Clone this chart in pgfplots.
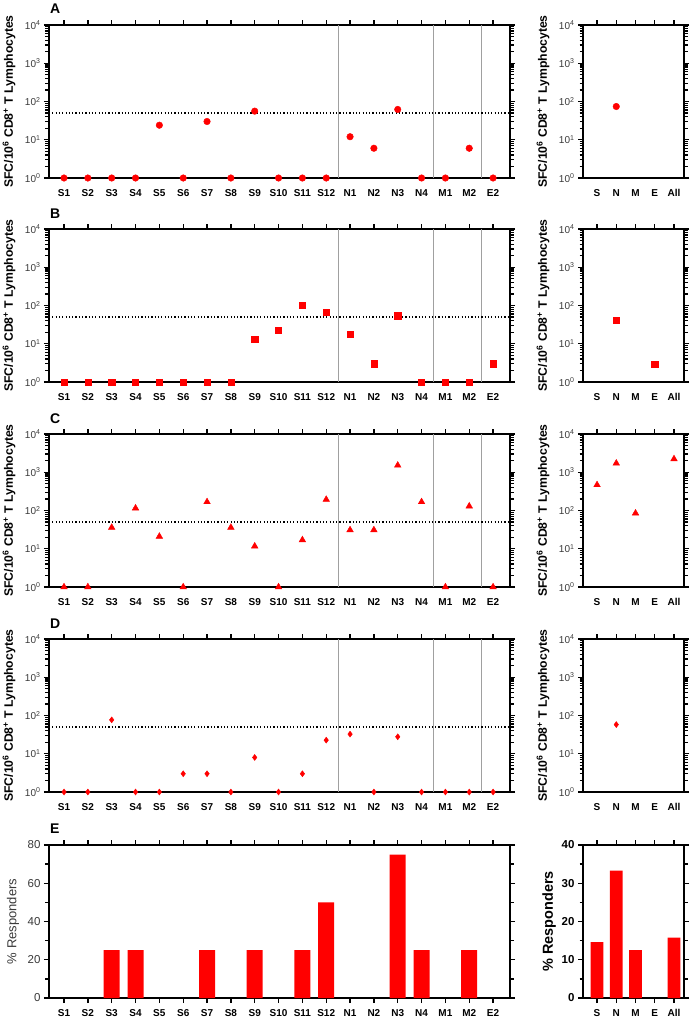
\documentclass[border=0pt]{standalone}
\usepackage{fontspec}
\setmainfont{Liberation Sans}
\usepackage{pgfplots}
\pgfplotsset{compat=1.18}
\definecolor{tickgray}{HTML}{3A3A3A}
\definecolor{sepgray}{HTML}{A0A0A0}
\definecolor{ptred}{HTML}{FF0000}

\pgfplotsset{
  myCommon/.style={
    scale only axis,
    clip=false,
    axis line style={line width=1.6pt},
    tick align=outside,
    xtick pos=right,
    xticklabel pos=left,
    ytick pos=both,
    yticklabel pos=left,
    major tick length=5pt,
    minor tick length=3.5pt,
    every tick/.append style={black, line width=1.3pt},
    /pgf/number format/assume math mode=true,
    xticklabel style={font=\bfseries\fontsize{10}{12}\selectfont, text=black, yshift=-3pt},
    yticklabel style={font=\fontsize{10}{12}\selectfont, text=tickgray},
    ylabel style={at={(axis description cs:0,0.5)}, anchor=center, yshift=40pt, font=\bfseries\fontsize{12.2}{14}\selectfont},
  },
  myLeft/.style={myCommon, width=461pt, height=153pt, xmin=-0.63, xmax=18.71,
    xtick={0,...,18},
    xticklabels={S1,S2,S3,S4,S5,S6,S7,S8,S9,S10,S11,S12,N1,N2,N3,N4,M1,M2,E2}},
  myRight/.style={myCommon, width=101pt, height=153pt, xmin=-0.73, xmax=4.52,
    xtick={0,...,4}, xticklabels={S,N,M,E,All}},
  mySfc/.style={ymin=1, ymax=10000,
    ytick={1,10,100,1000,10000},
    yticklabels={10\textsuperscript{0},10\textsuperscript{1},10\textsuperscript{2},10\textsuperscript{3},10\textsuperscript{4}},
    minor ytick={2,3,4,5,6,7,8,9,20,30,40,50,60,70,80,90,200,300,400,500,600,700,800,900,2000,3000,4000,5000,6000,7000,8000,9000},
    ylabel={SFC/10\textsuperscript{6} CD8\textsuperscript{+} T Lymphocytes}},
}
\newcommand{\separators}{%
  \addplot[sepgray, line width=0.9pt, forget plot] coordinates {(11.5,1) (11.5,10000)};
  \addplot[sepgray, line width=0.9pt, forget plot] coordinates {(15.5,1) (15.5,10000)};
  \addplot[sepgray, line width=0.9pt, forget plot] coordinates {(17.5,1) (17.5,10000)};
  \addplot[black, line width=1.2pt, dash pattern=on 1.2pt off 2.1pt, forget plot] coordinates {(-0.63,50) (18.71,50)};
}
\newcommand{\panellabel}[2]{\node[anchor=base west, inner sep=0, font=\bfseries\fontsize{14}{16}\selectfont] at (50pt,#1) {#2};}

\begin{document}
\begin{tikzpicture}
\useasboundingbox (0,0) rectangle (693pt,-1018pt);

% ---------------- A ----------------
\begin{axis}[ymode=log, myLeft, mySfc, at={(49pt,-25pt)}, anchor=north west]
\separators
\addplot[only marks, color=ptred, mark=*, mark size=3.3pt] coordinates {
(0,1) (1,1) (2,1) (3,1) (4,24) (5,1) (6,30) (7,1) (8,56) (9,1) (10,1) (11,1)
(12,12) (13,6) (14,62) (15,1) (16,1) (17,6) (18,1)};
\end{axis}
\begin{axis}[ymode=log, myRight, mySfc, at={(583pt,-25pt)}, anchor=north west]
\addplot[only marks, color=ptred, mark=*, mark size=3.3pt] coordinates {(1,74)};
\end{axis}
\panellabel{-13pt}{A}

% ---------------- B ----------------
\begin{axis}[ymode=log, myLeft, mySfc, at={(49pt,-229pt)}, anchor=north west]
\separators
\addplot[only marks, color=ptred, mark=square*, mark size=3.1pt] coordinates {
(0,1) (1,1) (2,1) (3,1) (4,1) (5,1) (6,1) (7,1) (8,13) (9,23) (10,104) (11,68)
(12,18) (13,3) (14,54) (15,1) (16,1) (17,1) (18,3)};
\end{axis}
\begin{axis}[ymode=log, myRight, mySfc, at={(583pt,-229pt)}, anchor=north west]
\addplot[only marks, color=ptred, mark=square*, mark size=3.1pt] coordinates {(1,42) (3,2.9)};
\end{axis}
\panellabel{-218pt}{B}

% ---------------- C ----------------
\begin{axis}[ymode=log, myLeft, mySfc, at={(49pt,-434pt)}, anchor=north west]
\separators
\addplot[only marks, color=ptred, mark=triangle*, mark size=3.8pt] coordinates {
(0,1) (1,1) (2,36) (3,115) (4,21) (5,1) (6,168) (7,36) (8,11.7) (9,1) (10,17) (11,194)
(12,31) (13,31) (14,1520) (15,168) (16,1) (17,130) (18,1)};
\end{axis}
\begin{axis}[ymode=log, myRight, mySfc, at={(583pt,-434pt)}, anchor=north west]
\addplot[only marks, color=ptred, mark=triangle*, mark size=3.8pt] coordinates {(0,468) (1,1718) (2,85) (4,2230)};
\end{axis}
\panellabel{-423pt}{C}

% ---------------- D ----------------
\begin{axis}[ymode=log, myLeft, mySfc, at={(49pt,-639pt)}, anchor=north west]
\separators
\addplot[only marks, color=ptred, mark=diamond*, mark size=3pt] coordinates {
(0,1) (1,1) (2,77) (3,1) (4,1) (5,3) (6,3) (7,1) (8,8) (9,1) (10,3) (11,22.7)
(12,32.6) (13,1) (14,27.8) (15,1) (16,1) (17,1) (18,1)};
\end{axis}
\begin{axis}[ymode=log, myRight, mySfc, at={(583pt,-639pt)}, anchor=north west]
\addplot[only marks, color=ptred, mark=diamond*, mark size=3pt] coordinates {(1,58)};
\end{axis}
\panellabel{-628pt}{D}

% ---------------- E ----------------
\begin{axis}[myLeft, at={(49pt,-845pt)}, anchor=north west, xtick pos=both,
  ymin=0, ymax=80, ytick={0,20,40,60,80}, minor y tick num=1,
  yticklabel style={font=\fontsize{11.5}{13}\selectfont, text=tickgray},
  ylabel={\% Responders}, ylabel style={font=\fontsize{13}{15}\selectfont, text=tickgray, yshift=-4pt}]
\addplot[ybar, bar width=16pt, fill=ptred, draw=none] coordinates {
(2,25) (3,25) (6,25) (8,25) (10,25) (11,50) (14,75) (15,25) (17,25)};
\end{axis}
\begin{axis}[myRight, at={(583pt,-845pt)}, anchor=north west, xtick pos=both,
  ymin=0, ymax=40, ytick={0,10,20,30,40}, minor y tick num=1,
  yticklabel style={font=\bfseries\fontsize{11.5}{13}\selectfont, text=black},
  ylabel={\% Responders}, ylabel style={font=\bfseries\fontsize{14.5}{16}\selectfont, text=black, yshift=-6pt}]
\addplot[ybar, bar width=12.7pt, fill=ptred, draw=none] coordinates {
(0,14.6) (1,33.3) (2,12.5) (4,15.8)};
\end{axis}
\panellabel{-833pt}{E}

\end{tikzpicture}
\end{document}
